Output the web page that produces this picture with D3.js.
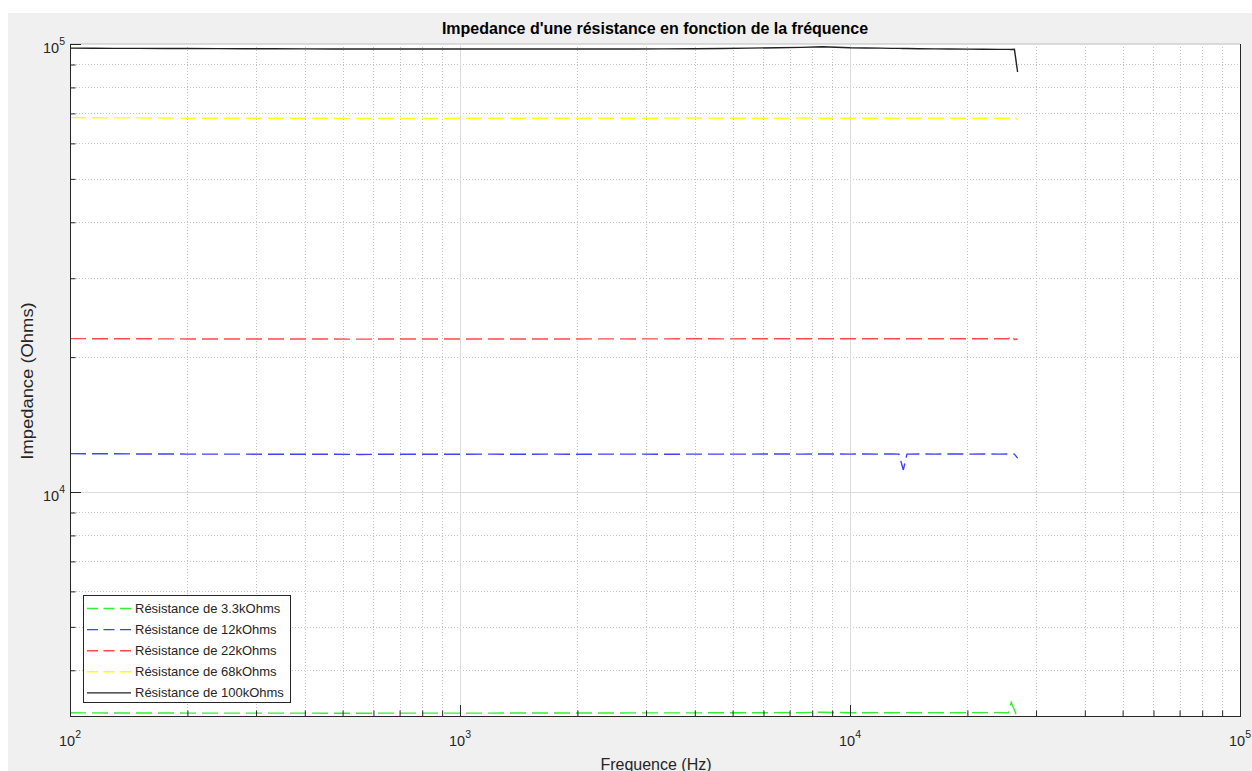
<!DOCTYPE html>
<html>
<head>
<meta charset="utf-8">
<script src="https://cdn.jsdelivr.net/npm/d3@7"></script>
<style>
  html, body { margin: 0; padding: 0; background: #ffffff; }
  svg { display: block; }
  text { font-family: "Liberation Sans", Arial, Helvetica, sans-serif; }
</style>
</head>
<body>
<svg id="chart" width="1252" height="771"></svg>
<script>
// ---------------- DATA ----------------
const frequencies = [100, 115, 130, 150, 175, 200, 240, 280, 330, 400,
  470, 550, 650, 800, 1000, 1200, 1450, 1700, 2000, 2400,
  2800, 3300, 4000, 4700, 5500, 6500, 7500, 8500, 10000, 11000,
  12000, 12800, 13350, 13700, 14000, 15000, 16500, 18000, 20000, 22000,
  24000, 25500, 25900, 26400, 26900];

const z3k3 = [3215, 3213, 3212, 3212, 3211, 3210, 3210, 3209, 3209, 3209,
  3208, 3208, 3209, 3209, 3210, 3210, 3211, 3211, 3212, 3212,
  3213, 3213, 3214, 3215, 3216, 3217, 3218, 3225, 3215, 3216,
  3217, 3216, 3217, 3216, 3217, 3216, 3217, 3216, 3217, 3218,
  3218, 3215, 3390, 3260, 3120];

const z12k = [12180, 12170, 12170, 12160, 12160, 12150, 12150, 12150, 12140, 12140,
  12140, 12130, 12140, 12140, 12140, 12150, 12140, 12150, 12140, 12150,
  12150, 12140, 12150, 12150, 12150, 12160, 12150, 12160, 12150, 12160,
  12150, 12160, 12150, 11200, 12150, 12160, 12150, 12160, 12150, 12160,
  12150, 12160, 12160, 12150, 11900];

const z22k = [22000, 21990, 21980, 21980, 21970, 21960, 21960, 21950, 21950, 21960,
  21950, 21940, 21950, 21950, 21960, 21950, 21960, 21950, 21960, 21970,
  21960, 21970, 21980, 21970, 21980, 21990, 21980, 21990, 21980, 21990,
  21980, 21990, 21990, 21980, 21990, 21980, 21990, 21980, 21990, 21980,
  21990, 21990, 22330, 21900, 21950];

const z68k = [68500, 68450, 68400, 68400, 68350, 68300, 68300, 68250, 68250, 68300,
  68250, 68200, 68250, 68200, 68250, 68300, 68250, 68300, 68250, 68300,
  68250, 68300, 68350, 68300, 68250, 68300, 68350, 68300, 68250, 68300,
  68250, 68300, 68300, 68250, 68300, 68250, 68300, 68250, 68300, 68250,
  68300, 68300, 68600, 68900, 67700];

const z100k = [97900, 97850, 97800, 97800, 97750, 97700, 97650, 97600, 97600, 97550,
  97500, 97500, 97450, 97450, 97450, 97450, 97500, 97450, 97450, 97500,
  97500, 97550, 97600, 97700, 97900, 98100, 98300, 98600, 98100, 98000,
  97900, 97800, 97800, 97700, 97750, 97600, 97550, 97450, 97400, 97350,
  97300, 97250, 97250, 97300, 86600];

const seriesNames = ["Résistance de 3.3kOhms", "Résistance de 12kOhms", "Résistance de 22kOhms",
  "Résistance de 68kOhms", "Résistance de 100kOhms"];
const seriesValues = [z3k3, z12k, z22k, z68k, z100k];
const seriesColors = ["#33ee33", "#4040ff", "#ff4a4a", "#ffff1a", "#222222"];
const seriesDashed = [true, true, true, true, false];

const xMajorTicks = [100, 1000, 10000, 100000];
const xTickExponents = ["2", "3", "4", "5"];
const yMajorTicks = [10000, 100000];
const yTickExponents = ["4", "5"];
const xMinorTicks = [200,300,400,500,600,700,800,900, 2000,3000,4000,5000,6000,7000,8000,9000,
  20000,30000,40000,50000,60000,70000,80000,90000];
const yMinorTicks = [4000,5000,6000,7000,8000,9000, 20000,30000,40000,50000,60000,70000,80000,90000];

const titleText = "Impedance d'une résistance en fonction de la fréquence";
const xLabel = "Frequence (Hz)";
const yLabel = "Impedance (Ohms)";

// ---------------- LAYOUT ----------------
const svg = d3.select("#chart");
const L = 70, R = 1240, T = 44, B = 716;
const axisColor = "#262626";

svg.append("rect").attr("x", 8).attr("y", 13).attr("width", 1252 - 8).attr("height", 771 - 13)
  .attr("fill", "#f0f0f0");
svg.append("rect").attr("x", L).attr("y", T).attr("width", R - L).attr("height", B - T)
  .attr("fill", "#ffffff");

const x = d3.scaleLog().domain([100, 100000]).range([L, R]);
const y = d3.scaleLog().domain([Math.pow(10, 3.5), 100000]).range([B, T]);

// grids
const grid = svg.append("g");
grid.selectAll(".gxm").data(xMinorTicks).join("line")
  .attr("x1", d => Math.round(x(d)) + 0.5).attr("x2", d => Math.round(x(d)) + 0.5).attr("y1", T).attr("y2", B)
  .attr("stroke", "#c4c4c4").attr("stroke-width", 1).attr("stroke-dasharray", "1,2");
grid.selectAll(".gym").data(yMinorTicks).join("line")
  .attr("y1", d => Math.round(y(d)) + 0.5).attr("y2", d => Math.round(y(d)) + 0.5).attr("x1", L).attr("x2", R)
  .attr("stroke", "#c4c4c4").attr("stroke-width", 1).attr("stroke-dasharray", "1,2");
grid.selectAll(".gxM").data(xMajorTicks.slice(1, 3)).join("line")
  .attr("x1", d => Math.round(x(d)) + 0.5).attr("x2", d => Math.round(x(d)) + 0.5).attr("y1", T).attr("y2", B)
  .attr("stroke", "#dcdcdc").attr("stroke-width", 1);
grid.selectAll(".gyM").data(yMajorTicks).join("line")
  .attr("y1", d => Math.round(y(d)) + 0.5).attr("y2", d => Math.round(y(d)) + 0.5).attr("x1", L).attr("x2", R)
  .attr("stroke", "#dcdcdc").attr("stroke-width", 1);

// data
const clip = svg.append("clipPath").attr("id", "plotclip");
clip.append("rect").attr("x", L).attr("y", T).attr("width", R - L).attr("height", B - T);
const line = d3.line().x((d, i) => x(frequencies[i])).y(d => y(d));
const dataG = svg.append("g").attr("clip-path", "url(#plotclip)");
seriesValues.forEach((vals, k) => {
  dataG.append("path").datum(vals)
    .attr("d", line)
    .attr("fill", "none")
    .attr("stroke", seriesColors[k])
    .attr("stroke-width", 1.4)
    .attr("stroke-dasharray", seriesDashed[k] ? "16,6" : null);
});

// axes (ticks inward)
const gx = svg.append("g").attr("transform", `translate(0,${B})`)
  .call(d3.axisBottom(x).tickValues(xMajorTicks).tickSize(-11).tickFormat(""));
const gxm = svg.append("g").attr("transform", `translate(0,${B})`)
  .call(d3.axisBottom(x).tickValues(xMinorTicks).tickSize(-5.5).tickFormat(""));
const gy = svg.append("g").attr("transform", `translate(${L},0)`)
  .call(d3.axisLeft(y).tickValues(yMajorTicks).tickSize(-11).tickFormat(""));
const gym = svg.append("g").attr("transform", `translate(${L},0)`)
  .call(d3.axisLeft(y).tickValues(yMinorTicks).tickSize(-5.5).tickFormat(""));
[gx, gxm, gy, gym].forEach(g => {
  g.selectAll("line").attr("stroke", axisColor);
  g.select(".domain").attr("stroke", axisColor);
});
// right & top borders
svg.append("line").attr("x1", R + 0.5).attr("x2", R + 0.5).attr("y1", T).attr("y2", B + 0.5)
  .attr("stroke", axisColor);
svg.append("line").attr("x1", L).attr("x2", R).attr("y1", T - 0.5).attr("y2", T - 0.5)
  .attr("stroke", "#d8d8d8");

// tick labels
const xl = svg.append("g");
xMajorTicks.forEach((v, i) => {
  const t = xl.append("text").attr("x", x(v)).attr("y", B + 30)
    .attr("text-anchor", "middle").attr("fill", axisColor).attr("font-size", 14.5);
  t.append("tspan").text("10");
  t.append("tspan").attr("dy", -8).attr("font-size", 10.5).text(xTickExponents[i]);
});
const yl = svg.append("g");
yMajorTicks.forEach((v, i) => {
  const t = yl.append("text").attr("x", L - 5).attr("y", y(v) + 8.5)
    .attr("text-anchor", "end").attr("fill", axisColor).attr("font-size", 14.5);
  t.append("tspan").text("10");
  t.append("tspan").attr("dy", -8).attr("font-size", 10.5).text(yTickExponents[i]);
});

// title and labels
svg.append("text").attr("x", 655).attr("y", 34).attr("text-anchor", "middle")
  .attr("font-weight", "bold").attr("font-size", 16).attr("fill", "#000").text(titleText);
svg.append("text").attr("x", 656).attr("y", 769.5).attr("text-anchor", "middle")
  .attr("font-size", 16).attr("fill", axisColor).text(xLabel);
svg.append("text").attr("transform", "translate(32.5,381) rotate(-90) scale(1.15,1)").attr("text-anchor", "middle")
  .attr("font-size", 16).attr("fill", axisColor).text(yLabel);

// legend
const lg = svg.append("g");
lg.append("rect").attr("x", 83.5).attr("y", 595.5).attr("width", 207).attr("height", 107)
  .attr("fill", "#ffffff").attr("stroke", axisColor).attr("stroke-width", 1);
seriesNames.forEach((name, k) => {
  const cy = 608.5 + k * 21.1;
  lg.append("line").attr("x1", 87).attr("x2", 131).attr("y1", cy).attr("y2", cy)
    .attr("stroke", seriesColors[k]).attr("stroke-width", 1.4)
    .attr("stroke-dasharray", seriesDashed[k] ? "11,5.5" : null);
  lg.append("text").attr("x", 135).attr("y", cy + 4.5).attr("font-size", 13)
    .attr("fill", axisColor).text(name);
});
</script>
</body>
</html>
